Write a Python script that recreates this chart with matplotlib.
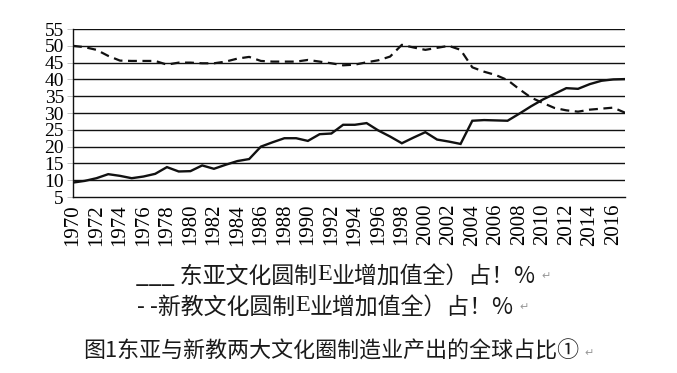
import matplotlib
matplotlib.use('Agg')
import matplotlib.pyplot as plt

# Data (share of world manufacturing value added, %)
years = list(range(1970, 2018))
east_asia = [9.3, 9.8, 10.6, 11.8, 11.3, 10.6, 11.1, 11.9, 13.9, 12.6,
             12.7, 14.4, 13.4, 14.6, 15.7, 16.3, 20.0, 21.3, 22.5, 22.5,
             21.7, 23.7, 23.9, 26.5, 26.5, 27.0, 24.8, 23.0, 21.0, 22.7,
             24.3, 22.1, 21.5, 20.8, 27.7, 27.9, 27.8, 27.7, 29.8, 32.0,
             34.0, 35.7, 37.4, 37.2, 38.6, 39.6, 40.0, 40.1]
protestant = [50.0, 49.6, 48.8, 47.0, 45.6, 45.5, 45.5, 45.5, 44.4, 45.0,
              45.0, 44.8, 44.8, 45.3, 46.2, 46.7, 45.5, 45.3, 45.3, 45.3,
              45.8, 45.3, 44.8, 44.2, 44.4, 45.1, 45.7, 46.8, 50.3, 49.5,
              48.8, 49.4, 50.0, 48.8, 43.6, 42.3, 41.3, 39.8, 37.1, 34.6,
              33.0, 31.5, 30.8, 30.4, 31.0, 31.3, 31.6, 30.1]
x_ticks = list(range(1970, 2017, 2))
y_ticks = list(range(5, 60, 5))

legend_1 = '东亚文化圆制'
legend_1b = '业增加值全）占！%'
legend_2 = '新教文化圆制'
caption = '图1东亚与新教两大文化圈制造业产出的全球占比①'

cjk = ['Noto Sans CJK SC', 'DejaVu Sans']
serif = 'Liberation Serif'
ink = '#1a1a1a'

fig = plt.figure(figsize=(6.77, 3.73), dpi=100)
ax = fig.add_axes([0.1078, 0.4718, 0.8154, 0.4504])

ax.plot(years, east_asia, color='#111111', lw=1.7, solid_joinstyle='miter')
ax.plot(years, protestant, color='#111111', lw=1.6, linestyle=(0, (4, 2.5)))

ax.set_xlim(1970, 2017)
ax.set_ylim(5, 55)
ax.set_yticks(y_ticks)
ax.set_yticklabels([str(v) for v in y_ticks], fontsize=14, family=serif)
ax.set_xticks(x_ticks)
ax.set_xticklabels([str(v) for v in x_ticks], fontsize=15, family=serif, rotation=90)

for v in y_ticks[1:]:
    ax.axhline(v, color='#111111', lw=1.0, zorder=0.5)

for s in ['top', 'right']:
    ax.spines[s].set_visible(False)
for s in ['left', 'bottom']:
    ax.spines[s].set_color('#111111')
    ax.spines[s].set_linewidth(1.0)
ax.tick_params(axis='y', length=4, width=0.5, color='#aaaaaa', pad=2.5)
ax.tick_params(axis='x', length=0, pad=5)

# legend rows, written as text like the original document
t1 = fig.text(136 / 677, 1 - 276 / 373, '___ ' + legend_1, fontsize=16.5, family=cjk,
              va='center', ha='left', color=ink)
e1 = ax.annotate('E', xy=(1, 0.12), xycoords=t1, fontsize=17.5, family=serif,
                 va='bottom', ha='left', color=ink, annotation_clip=False)
r1 = ax.annotate(legend_1b, xy=(1, 0), xycoords=e1, xytext=(0, -2.5),
                 textcoords='offset points', fontsize=16.5, family=cjk,
                 va='bottom', ha='left', color=ink, annotation_clip=False)
ax.annotate('↵', xy=(1, 0.3), xycoords=r1, xytext=(4, 0), textcoords='offset points',
            fontsize=8, family=cjk, va='bottom', ha='left', color='#999999',
            annotation_clip=False)

t2 = fig.text(137 / 677, 1 - 307 / 373, '- -' + legend_2, fontsize=16.5, family=cjk,
              va='center', ha='left', color=ink)
e2 = ax.annotate('E', xy=(1, 0.12), xycoords=t2, fontsize=17.5, family=serif,
                 va='bottom', ha='left', color=ink, annotation_clip=False)
r2 = ax.annotate(legend_1b, xy=(1, 0), xycoords=e2, xytext=(0, -2.5),
                 textcoords='offset points', fontsize=16.5, family=cjk,
                 va='bottom', ha='left', color=ink, annotation_clip=False)
ax.annotate('↵', xy=(1, 0.3), xycoords=r2, xytext=(4, 0), textcoords='offset points',
            fontsize=8, family=cjk, va='bottom', ha='left', color='#999999',
            annotation_clip=False)

# caption
c = fig.text(83 / 677, 1 - 352 / 373, caption, fontsize=15.8, family=cjk,
             va='center', ha='left', color=ink)
ax.annotate('↵', xy=(1, 0.2), xycoords=c, xytext=(4, 0), textcoords='offset points',
            fontsize=8, family=cjk, va='bottom', ha='left', color='#999999',
            annotation_clip=False)

fig.savefig('out.png', dpi=100, facecolor='white')
